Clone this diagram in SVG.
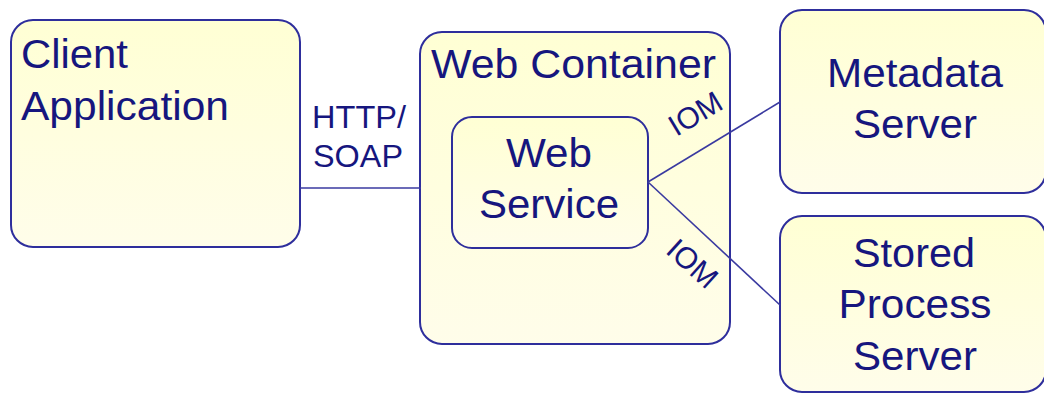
<svg xmlns="http://www.w3.org/2000/svg" width="1044" height="394" viewBox="0 0 1044 394">
  <defs>
    <linearGradient id="boxFill" x1="0" y1="0" x2="0" y2="1">
      <stop offset="0" stop-color="#ffffd4"/>
      <stop offset="1" stop-color="#fffdea"/>
    </linearGradient>
    <style>
      .box { fill: url(#boxFill); stroke: #2e2e9c; stroke-width: 2; }
      .link { fill: none; stroke: #3a3aa0; stroke-width: 1.6; }
      .lbl { font-family: "Liberation Sans", Arial, sans-serif; font-size: 40px; fill: #16167e; }
      .small { font-size: 32px; }
      .iom { font-size: 30px; }
      .mid { text-anchor: middle; }
    </style>
  </defs>

  <rect width="1044" height="394" fill="#ffffff"/>

  <!-- client -->
  <g id="client-application">
    <rect class="box" x="11" y="20" width="289" height="227" rx="22"/>
    <text class="lbl" x="21" y="68" textLength="107" lengthAdjust="spacingAndGlyphs">Client</text>
    <text class="lbl" x="21" y="120" textLength="208" lengthAdjust="spacingAndGlyphs">Application</text>
  </g>

  <!-- container with nested service -->
  <g id="web-container">
    <rect class="box" x="420" y="32" width="310" height="312" rx="22"/>
    <text class="lbl" x="431" y="78" textLength="285" lengthAdjust="spacingAndGlyphs">Web Container</text>
  </g>

  <g id="web-service">
    <rect class="box" x="452" y="117" width="196" height="131" rx="20"/>
    <text class="lbl mid" x="549" y="167" textLength="86" lengthAdjust="spacingAndGlyphs">Web</text>
    <text class="lbl mid" x="549" y="218" textLength="140" lengthAdjust="spacingAndGlyphs">Service</text>
  </g>

  <!-- servers -->
  <g id="metadata-server">
    <rect class="box" x="780" y="10" width="266" height="183" rx="22"/>
    <text class="lbl mid" x="915" y="87" textLength="176" lengthAdjust="spacingAndGlyphs">Metadata</text>
    <text class="lbl mid" x="915" y="138" textLength="124" lengthAdjust="spacingAndGlyphs">Server</text>
  </g>

  <g id="stored-process-server">
    <rect class="box" x="780" y="216" width="266" height="176" rx="22"/>
    <text class="lbl mid" x="914" y="267" textLength="122" lengthAdjust="spacingAndGlyphs">Stored</text>
    <text class="lbl mid" x="915" y="318" textLength="153" lengthAdjust="spacingAndGlyphs">Process</text>
    <text class="lbl mid" x="915" y="370" textLength="124" lengthAdjust="spacingAndGlyphs">Server</text>
  </g>

  <!-- connectors, drawn last so they cross over the container -->
  <g id="connectors">
    <line class="link" x1="300" y1="188" x2="421" y2="188"/>
    <line class="link" x1="648" y1="182" x2="780" y2="102"/>
    <line class="link" x1="648" y1="182" x2="780" y2="305"/>
    <text class="lbl small" x="312" y="128" textLength="94" lengthAdjust="spacingAndGlyphs">HTTP/</text>
    <text class="lbl small" x="313" y="167" textLength="90" lengthAdjust="spacingAndGlyphs">SOAP</text>
    <text class="lbl iom mid" x="695" y="124" transform="rotate(-31 695 113)">IOM</text>
    <text class="lbl iom mid" x="693" y="274" transform="rotate(42 693 263)">IOM</text>
  </g>
</svg>
